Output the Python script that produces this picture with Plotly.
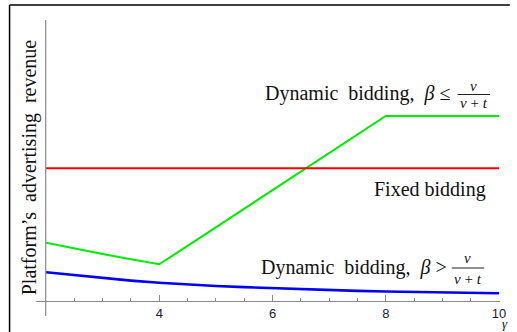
import plotly.graph_objects as go

# ---- data ----
gamma = [2, 2.5, 3, 3.5, 4, 4.5, 5, 5.5, 6, 6.5, 7, 7.5, 8, 8.5, 9, 9.5, 10]
dyn_low_beta = [58.3, 52.5, 47.0, 41.7, 36.7, 55.2, 73.8, 92.3, 110.9, 129.4, 148.0, 166.5, 185.0, 185.0, 185.0, 185.0, 185.0]
fixed = [132.7] * len(gamma)
dyn_high_beta = [28.7, 25.7, 23.0, 20.4, 18.2, 16.5, 15.0, 13.9, 12.8, 11.8, 10.8, 10.1, 9.5, 9.0, 8.5, 8.1, 7.7]
x_ticks = [4, 6, 8, 10]
x_tick_labels = ["4", "6", "8", "10"]

W, H = 517, 332
L, R, T, B = 46, 11, 20, 31
PW, PH = W - L - R, H - T - B
XMIN, XMAX = 2, 10
YMIN, YMAX = 0, PH

def px(xp):
    return (xp - L) / PW

def py(yp):
    return (H - B - yp) / PH

serif = "Liberation Serif"
sans = "Liberation Sans"

fig = go.Figure()
fig.add_trace(go.Scatter(x=gamma, y=dyn_low_beta, mode="lines",
                         line=dict(color="#00ee00", width=2), showlegend=False, hoverinfo="skip"))
fig.add_trace(go.Scatter(x=gamma, y=fixed, mode="lines",
                         line=dict(color="#ff0000", width=2), showlegend=False, hoverinfo="skip"))
fig.add_trace(go.Scatter(x=gamma, y=dyn_high_beta, mode="lines",
                         line=dict(color="#0000ff", width=2.6), showlegend=False, hoverinfo="skip"))

shapes = []
# outer frame: only top and left edges are visible in the picture
shapes.append(dict(type="line", xref="paper", yref="paper",
                   x0=px(9), x1=px(517), y0=py(5), y1=py(5),
                   line=dict(color="black", width=1.5), layer="above"))
shapes.append(dict(type="line", xref="paper", yref="paper",
                   x0=px(9), x1=px(9), y0=py(5), y1=py(332),
                   line=dict(color="black", width=1.5), layer="above"))
# axes lines
axc = "#8a8a8a"
shapes.append(dict(type="line", xref="paper", yref="paper",
                   x0=px(36), x1=px(507), y0=py(301.5), y1=py(301.5),
                   line=dict(color=axc, width=1.2)))
shapes.append(dict(type="line", xref="paper", yref="paper",
                   x0=px(45.7), x1=px(45.7), y0=py(20), y1=py(316),
                   line=dict(color=axc, width=1.2)))
# fraction bars
shapes.append(dict(type="line", xref="paper", yref="paper",
                   x0=px(464), x1=px(497), y0=py(94.5), y1=py(94.5),
                   line=dict(color="#222", width=1)))
shapes.append(dict(type="line", xref="paper", yref="paper",
                   x0=px(458), x1=px(491), y0=py(268), y1=py(268),
                   line=dict(color="#222", width=1)))

ann = []
def text(t, x, y, size, anchor="left", italic=False, family=serif, color="#111"):
    ann.append(dict(text=("<i>%s</i>" % t) if italic else t, xref="paper", yref="paper",
                    x=px(x), y=py(y), xanchor=anchor, yanchor="middle",
                    showarrow=False, font=dict(family=family, size=size, color=color)))

text("Dynamic&nbsp; bidding,&nbsp; <i>β</i> ≤", 266, 93, 20)
text("v", 480.5, 86, 15, anchor="center", italic=True)
text("<i>v</i> + <i>t</i>", 480.5, 102.5, 15, anchor="center")
text("Fixed bidding", 436, 189, 20, anchor="center")
text("Dynamic&nbsp; bidding,&nbsp; <i>β</i> >", 262, 267, 20)
text("v", 474.5, 258, 15, anchor="center", italic=True)
text("<i>v</i> + <i>t</i>", 474.5, 278.5, 15, anchor="center")
text("γ", 512, 323.5, 13, anchor="center", italic=True)
# y-axis title
ann.append(dict(text="Platform’s&nbsp; advertising&nbsp; revenue", xref="paper", yref="paper",
                x=px(29), y=py(167), xanchor="center", yanchor="middle", textangle=-90,
                showarrow=False, font=dict(family=serif, size=20, color="#111")))

fig.update_layout(
    width=W, height=H, margin=dict(l=L, r=R, t=T, b=B, pad=0),
    paper_bgcolor="white", plot_bgcolor="white",
    shapes=shapes, annotations=ann,
    xaxis=dict(range=[XMIN, XMAX], showgrid=False, zeroline=False, showline=False,
               tickmode="array", tickvals=x_ticks, ticktext=x_tick_labels,
               ticks="inside", ticklen=6, tickcolor=axc, tickwidth=1,
               ticklabelstandoff=3,
               minor=dict(dtick=0.5, tick0=2, ticks="inside", ticklen=3, tickcolor=axc, tickwidth=1),
               tickfont=dict(family=sans, size=13, color="#1a1a33")),
    yaxis=dict(range=[YMIN, YMAX], showgrid=False, zeroline=False, showline=False,
               showticklabels=False, ticks=""),
)
fig.write_html("out.html", config={"displayModeBar": False},
               post_script="document.body.style.margin='0';document.body.style.overflow='hidden';"
                           "document.documentElement.style.overflow='hidden';")
